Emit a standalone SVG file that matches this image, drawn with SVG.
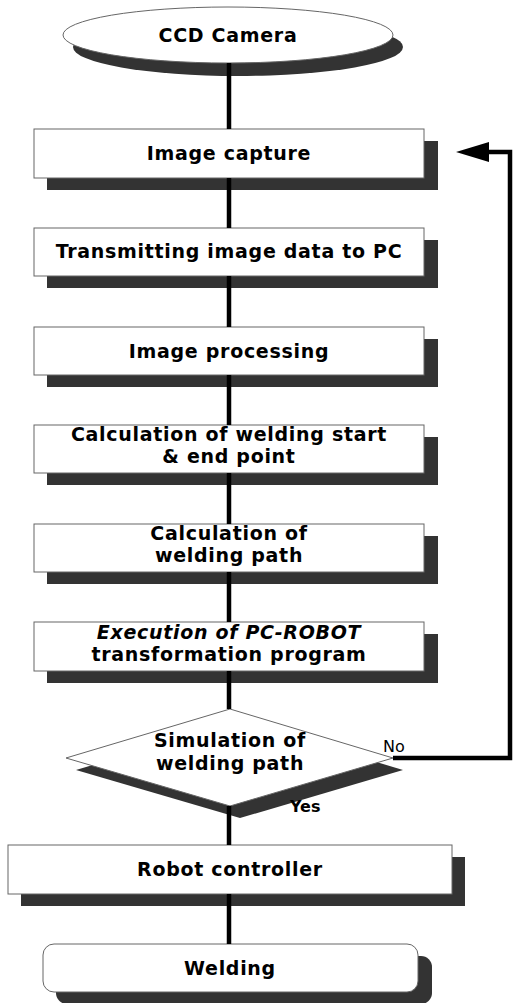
<svg xmlns="http://www.w3.org/2000/svg" width="515" height="1003" viewBox="0 0 515 1003">
<style>
.box{fill:#fff;stroke:#666;stroke-width:1}
.sh{fill:#333}
.t{font-family:"DejaVu Sans",Verdana,sans-serif;font-weight:bold;font-size:19px;letter-spacing:0.7px;fill:#000;text-anchor:middle}
.lbl{font-family:"DejaVu Sans",Verdana,sans-serif;font-size:16px;fill:#000}
.c{stroke:#000;stroke-width:4.5;fill:none}
</style>
<rect width="515" height="1003" fill="#fff"/>
<g id="n-ccd">
<ellipse class="sh" cx="238" cy="47" rx="165" ry="29"/>
<ellipse class="box" cx="228" cy="35" rx="165" ry="28"/>
<text class="t" x="228" y="42">CCD Camera</text>
</g>
<g id="n-capture">
<rect class="sh" x="47" y="141" width="391" height="49"/>
<rect class="box" x="34" y="129" width="390" height="49"/>
<text class="t" x="229" y="160">Image capture</text>
</g>
<g id="n-transmit">
<rect class="sh" x="47" y="240" width="391" height="48"/>
<rect class="box" x="34" y="228" width="390" height="48"/>
<text class="t" x="229" y="258">Transmitting image data to PC</text>
</g>
<g id="n-processing">
<rect class="sh" x="47" y="339" width="391" height="48"/>
<rect class="box" x="34" y="327" width="390" height="48"/>
<text class="t" x="229" y="358">Image processing</text>
</g>
<g id="n-startend">
<rect class="sh" x="47" y="437" width="391" height="48"/>
<rect class="box" x="34" y="425" width="390" height="48"/>
<text class="t" x="229" y="441">Calculation of welding start</text>
<text class="t" x="229" y="463">&amp; end point</text>
</g>
<g id="n-path">
<rect class="sh" x="47" y="536" width="391" height="48"/>
<rect class="box" x="34" y="524" width="390" height="48"/>
<text class="t" x="229" y="540">Calculation of</text>
<text class="t" x="229" y="562">welding path</text>
</g>
<g id="n-exec">
<rect class="sh" x="47" y="634" width="391" height="49"/>
<rect class="box" x="34" y="622" width="390" height="49"/>
<text class="t" x="229" y="639" font-style="italic">Execution of PC-ROBOT</text>
<text class="t" x="229" y="661">transformation program</text>
</g>
<g id="n-sim">
<polygon class="sh" points="240,721 403,770 240,818 76,770"/>
<polygon class="box" points="230,709 393,758 230,806 66,758"/>
<text class="t" x="230" y="747">Simulation of</text>
<text class="t" x="230" y="770">welding path</text>
</g>
<g id="n-robot">
<rect class="sh" x="21" y="857" width="444" height="49"/>
<rect class="box" x="8" y="845" width="444" height="49"/>
<text class="t" x="230" y="876">Robot controller</text>
</g>
<g id="n-welding">
<rect class="sh" x="56" y="956" width="376" height="48" rx="11"/>
<rect class="box" x="43" y="944" width="375" height="48" rx="11"/>
<text class="t" x="230" y="975">Welding</text>
</g>
<g id="connectors">
<line class="c" x1="229" y1="63" x2="229" y2="129"/>
<line class="c" x1="229" y1="178" x2="229" y2="228"/>
<line class="c" x1="229" y1="276" x2="229" y2="327"/>
<line class="c" x1="229" y1="375" x2="229" y2="425"/>
<line class="c" x1="229" y1="473" x2="229" y2="524"/>
<line class="c" x1="229" y1="572" x2="229" y2="622"/>
<line class="c" x1="229" y1="671" x2="229" y2="709"/>
<line class="c" x1="229" y1="806" x2="229" y2="845"/>
<line class="c" x1="229" y1="894" x2="229" y2="944"/>
<polyline class="c" points="393,758 510,758 510,152 486,152"/>
<polygon points="456,152 489,142 489,162" fill="#000"/>
<text class="lbl" x="383" y="752">No</text>
<text class="lbl" x="290" y="812" font-weight="bold" font-size="15">Yes</text>
</g>
</svg>
